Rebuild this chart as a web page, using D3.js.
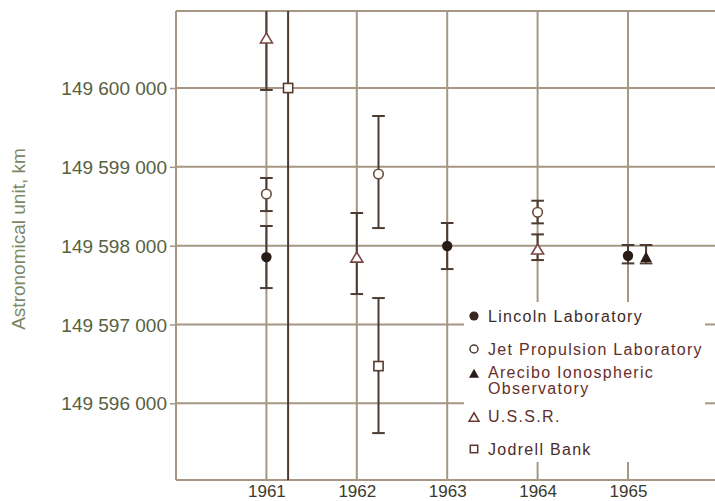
<!DOCTYPE html>
<html>
<head>
<meta charset="utf-8">
<script src="https://cdn.jsdelivr.net/npm/d3@7/dist/d3.min.js"></script>
<style>
  html, body { margin: 0; padding: 0; background: #ffffff; }
  svg { display: block; }
  text { font-family: "Liberation Sans", Arial, Helvetica, sans-serif; }
</style>
</head>
<body>
<svg id="chart" width="715" height="501"></svg>
<script>
// Year tick values and labels
const yearTicks = [1961, 1962, 1963, 1964, 1965];
const yearLabels = ["1961", "1962", "1963", "1964", "1965"];

// Distance tick values (km) and labels
const auTicks = [149596000, 149597000, 149598000, 149599000, 149600000];
const auLabels = ["149 596 000", "149 597 000", "149 598 000", "149 599 000", "149 600 000"];

// Radar determinations of the astronomical unit: epoch, value, error-bar ends (km)
const lincolnYears  = [1961, 1963, 1965];
const lincolnValues = [149597855, 149597995, 149597872];
const lincolnLow    = [149597462, 149597703, 149597775];
const lincolnHigh   = [149598249, 149598287, 149598008];

const jplYears  = [1961, 1962.24, 1964];
const jplValues = [149598655, 149598909, 149598423];
const jplLow    = [149598439, 149598223, 149598283];
const jplHigh   = [149598858, 149599645, 149598570];

const areciboYears  = [1965.2];
const areciboValues = [149597860];
const areciboLow    = [149597775];
const areciboHigh   = [149598008];

const ussrYears  = [1961, 1962, 1964];
const ussrValues = [149600635, 149597855, 149597957];
const ussrLow    = [149599975, 149597386, 149597817];
const ussrHigh   = [149601295, 149598414, 149598143];

const jodrellYears  = [1961.24, 1962.24];
const jodrellValues = [149600000, 149596472];
const jodrellLow    = [149595000, 149595622];
const jodrellHigh   = [149605000, 149597335];

const legendLabels = [
  ["Lincoln Laboratory"],
  ["Jet Propulsion Laboratory"],
  ["Arecibo Ionospheric", "Observatory"],
  ["U.S.S.R."],
  ["Jodrell Bank"]
];

// ---- layout ----
const plotLeft = 176, plotTop = 11, plotBottom = 480, plotRight = 718;
const legendGapLeft = 464;   // grid interrupted around the key
const legendTopY = 302, legendBottomY = 462;

const x = d3.scaleLinear().domain([1960, 1966]).range([176, 718.4]);
const y = d3.scaleLinear().domain([149596000, 149600000]).range([403.3, 88]);

const svg = d3.select("#chart");

const gridColor = "#a69684";
const barColor = "#4b3b31";

svg.append("defs").append("clipPath").attr("id", "plotClip")
  .append("rect")
  .attr("x", plotLeft).attr("y", plotTop)
  .attr("width", plotRight - plotLeft).attr("height", plotBottom - plotTop);

const grid = svg.append("g").attr("stroke", gridColor).attr("stroke-width", 2).attr("fill", "none");

// frame: top and bottom edges across the full width, left edge
grid.append("line").attr("x1", plotLeft).attr("x2", 715).attr("y1", plotTop).attr("y2", plotTop);
grid.append("line").attr("x1", plotLeft).attr("x2", 715).attr("y1", plotBottom).attr("y2", plotBottom);

// horizontal grid: upper three run across; the lower two stop at the key
auTicks.forEach(v => {
  const yy = y(v);
  const full = v >= 149598000;
  grid.append("line")
    .attr("x1", plotLeft).attr("x2", full ? 715 : legendGapLeft)
    .attr("y1", yy).attr("y2", yy);
  if (!full) {
    grid.append("line").attr("x1", 705).attr("x2", 715).attr("y1", yy).attr("y2", yy);
  }
});

// vertical grid: 1961-1963 full height, 1964-1965 broken by the key
yearTicks.forEach(t => {
  const xx = x(t);
  if (t <= 1963) {
    grid.append("line").attr("x1", xx).attr("x2", xx).attr("y1", plotTop).attr("y2", plotBottom);
  } else {
    grid.append("line").attr("x1", xx).attr("x2", xx).attr("y1", plotTop).attr("y2", legendTopY);
    grid.append("line").attr("x1", xx).attr("x2", xx).attr("y1", legendBottomY).attr("y2", plotBottom);
  }
});

// ---- axes ----
const yAxis = svg.append("g")
  .attr("transform", `translate(${plotLeft},0)`)
  .call(d3.axisLeft(y).tickValues(auTicks).tickFormat((d, i) => auLabels[i]).tickSize(6).tickPadding(3));
yAxis.select(".domain")
  .attr("d", `M0,${plotTop}V${plotBottom}`)
  .attr("stroke", gridColor).attr("stroke-width", 2);
yAxis.selectAll(".tick line").attr("stroke", gridColor).attr("stroke-width", 1.5);
yAxis.selectAll(".tick text")
  .attr("fill", "#56613f")
  .style("font-size", "19px")
  .attr("dy", "0.35em");

const xAxis = svg.append("g")
  .attr("transform", `translate(0,${plotBottom})`)
  .call(d3.axisBottom(x).tickValues(yearTicks).tickFormat((d, i) => yearLabels[i]).tickSize(0));
xAxis.select(".domain").remove();
xAxis.selectAll(".tick text")
  .attr("y", 17).attr("dy", 0)
  .attr("fill", "#3b3a2c")
  .style("font-size", "17px");

// axis title
svg.append("text")
  .attr("transform", "translate(25,239) rotate(-90)")
  .attr("text-anchor", "middle")
  .attr("fill", "#7c8764")
  .style("font-size", "19px")
  .text("Astronomical unit, km");

// ---- marker shapes ----
function trianglePath(w, h) {
  return `M0,${-h / 2}L${w / 2},${h / 2}L${-w / 2},${h / 2}Z`;
}
const shapes = {
  filledCircle: g => g.append("circle").attr("r", 5.2).attr("fill", "#2a1b17"),
  openCircle:   g => g.append("circle").attr("r", 4.8).attr("fill", "#fff").attr("stroke", "#6a4b3d").attr("stroke-width", 1.6),
  filledTri:    g => g.append("path").attr("d", trianglePath(11.5, 10.5)).attr("fill", "#2a1b17"),
  openTri:      g => g.append("path").attr("d", trianglePath(12, 10)).attr("fill", "#fff").attr("stroke", "#7a4442").attr("stroke-width", 1.6),
  openSquare:   g => g.append("rect").attr("x", -4.6).attr("y", -4.6).attr("width", 9.2).attr("height", 9.2).attr("fill", "#fff").attr("stroke", "#5a3b32").attr("stroke-width", 1.6)
};

const series = [
  { years: lincolnYears, values: lincolnValues, low: lincolnLow, high: lincolnHigh, shape: "filledCircle" },
  { years: jplYears, values: jplValues, low: jplLow, high: jplHigh, shape: "openCircle" },
  { years: areciboYears, values: areciboValues, low: areciboLow, high: areciboHigh, shape: "filledTri" },
  { years: ussrYears, values: ussrValues, low: ussrLow, high: ussrHigh, shape: "openTri" },
  { years: jodrellYears, values: jodrellValues, low: jodrellLow, high: jodrellHigh, shape: "openSquare" }
];

const bars = svg.append("g").attr("clip-path", "url(#plotClip)")
  .attr("stroke", barColor).attr("stroke-width", 2).attr("fill", "none");
const capHalf = 6.3;
series.forEach(s => {
  s.years.forEach((yr, i) => {
    const xx = x(yr), y1 = y(s.low[i]), y2 = y(s.high[i]);
    bars.append("line").attr("x1", xx).attr("x2", xx).attr("y1", y1).attr("y2", y2);
    bars.append("line").attr("x1", xx - capHalf).attr("x2", xx + capHalf).attr("y1", y1).attr("y2", y1);
    bars.append("line").attr("x1", xx - capHalf).attr("x2", xx + capHalf).attr("y1", y2).attr("y2", y2);
  });
});

const marks = svg.append("g").attr("clip-path", "url(#plotClip)");
series.forEach(s => {
  s.years.forEach((yr, i) => {
    const g = marks.append("g").attr("transform", `translate(${x(yr)},${y(s.values[i])})`);
    shapes[s.shape](g);
  });
});

// ---- key ----
const legendColors = ["#3c2a25", "#5e2f2b", "#682e2a", "#5c2f2d", "#4d2c28"];
const legendRows = [316, 349, 373.3, 417, 449];
const legendBaselines = [322, 354.5, 378, 421.5, 454.5];
const legendMarkerSize = {
  filledCircle: g => g.append("circle").attr("r", 4.6).attr("fill", "#3a251f"),
  openCircle:   g => g.append("circle").attr("r", 4).attr("fill", "#fff").attr("stroke", "#4f3a32").attr("stroke-width", 1.5),
  filledTri:    g => g.append("path").attr("d", trianglePath(10, 9)).attr("fill", "#2a1b17"),
  openTri:      g => g.append("path").attr("d", trianglePath(10, 8.5)).attr("fill", "#fff").attr("stroke", "#6a3a36").attr("stroke-width", 1.5),
  openSquare:   g => g.append("rect").attr("x", -3.7).attr("y", -3.7).attr("width", 7.4).attr("height", 7.4).attr("fill", "#fff").attr("stroke", "#5a3530").attr("stroke-width", 1.5)
};
const legend = svg.append("g");
series.forEach((s, i) => {
  const g = legend.append("g").attr("transform", `translate(474,${legendRows[i]})`);
  legendMarkerSize[s.shape](g);
  const t = legend.append("text")
    .attr("x", 488).attr("y", legendBaselines[i])
    .attr("fill", legendColors[i])
    .style("font-size", "16px")
    .style("letter-spacing", "1.3px");
  legendLabels[i].forEach((line, j) => {
    t.append("tspan").attr("x", 488).attr("dy", j === 0 ? 0 : 16).text(line);
  });
});
</script>
</body>
</html>
